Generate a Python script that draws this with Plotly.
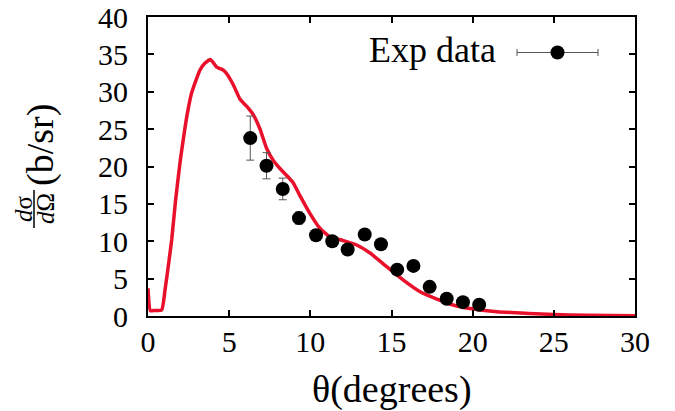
import plotly.graph_objects as go

# Theory curve
theta_curve = [0, 0.15, 0.4, 0.84, 1.05, 1.3, 1.46, 1.7, 2.0, 2.2, 2.4, 2.68, 3.0, 3.2, 3.5,
               3.86, 4.23, 4.44, 4.64, 4.85, 5.26, 5.67, 6.1, 6.49, 6.9, 7.31, 7.72, 8.1,
               8.54, 8.95, 9.36, 9.98, 10.6, 11.2, 12.0, 12.85, 13.7, 14.7, 15.73, 16.76,
               17.8, 18.8, 19.84, 21.5, 23.5, 25.0, 27.0, 30.0]
xs_curve = [3.7, 0.7, 0.75, 0.8, 3.5, 7.5, 10.2, 15.5, 21.0, 24.0, 26.8, 29.8, 31.8, 32.9, 33.8,
            34.3, 33.3, 33.1, 32.9, 32.4, 30.9, 29.0, 28.0, 26.9, 25.0, 22.4, 20.8, 19.8,
            18.8, 17.8, 16.1, 13.7, 11.7, 10.6, 10.1, 9.5, 8.4, 6.6, 4.8, 3.25,
            2.27, 1.47, 1.0, 0.58, 0.35, 0.2, 0.1, 0.05]

# Experimental data
theta_exp = [6.3, 7.3, 8.3, 9.3, 10.35, 11.35, 12.3, 13.35, 14.35, 15.35, 16.35, 17.35, 18.4, 19.4, 20.4]
xs_exp = [23.8, 20.1, 17.0, 13.1, 10.8, 10.0, 8.9, 10.9, 9.6, 6.2, 6.7, 3.9, 2.3, 1.85, 1.5]
err_exp = [2.95, 1.75, 1.45, 0.8, 0.7, 0.6, 0.6, 0.6, 0.6, 0.5, 0.5, 0.4, 0.3, 0.3, 0.3]

x_ticks = [0, 5, 10, 15, 20, 25, 30]
y_ticks = [0, 5, 10, 15, 20, 25, 30, 35, 40]

RED = "#e8102a"
FONT = "Liberation Serif"

fig = go.Figure()
fig.add_trace(go.Scatter(x=theta_curve, y=xs_curve, mode="lines",
                         line=dict(color=RED, width=3.5, shape="spline", smoothing=0.5),
                         showlegend=False))
fig.add_trace(go.Scatter(x=theta_exp, y=xs_exp, mode="markers",
                         marker=dict(color="black", size=14),
                         error_y=dict(type="data", array=err_exp, color="#555555",
                                      thickness=1, width=4),
                         showlegend=False, cliponaxis=False))

# page shows the figure offset by the 8px body margin
OFF = 8
W, H = 675 - OFF, 411 - OFF
L, R, T, B = 148 - OFF, 40, 17 - OFF, 95
pw, ph = W - L - R, H - T - B
PL, PB = 148, 316  # plot-area left / bottom in reference pixels

def px(x):
    return (x - PL) / pw

def py(y):
    return (PB - y) / ph

axis_common = dict(showline=True, linewidth=2, linecolor="black", mirror="ticks",
                   ticks="inside", ticklen=6, tickwidth=2, tickcolor="black",
                   showgrid=False, zeroline=False, automargin=False,
                   ticklabeloverflow="allow",
                   tickfont=dict(family=FONT, size=30, color="black"))

fig.update_xaxes(range=[0, 30], tickvals=x_ticks, ticklabelstandoff=-2, **axis_common)
fig.update_yaxes(range=[0, 40], tickvals=y_ticks, ticklabelstandoff=12, **axis_common)

annotations = [
    dict(text="θ(degrees)", x=0.5, y=py(389), xref="paper", yref="paper",
         xanchor="center", yanchor="middle", showarrow=False,
         font=dict(family=FONT, size=38, color="black")),
    dict(text="(b/sr)", x=px(40), y=py(145), xref="paper", yref="paper",
         xanchor="center", yanchor="middle", showarrow=False, textangle=-90,
         font=dict(family=FONT, size=38, color="black")),
    dict(text="<i>d</i>σ", x=px(23), y=py(209), xref="paper", yref="paper",
         xanchor="center", yanchor="middle", showarrow=False, textangle=-90,
         font=dict(family=FONT, size=25, color="black")),
    dict(text="<i>d</i>Ω", x=px(45), y=py(209), xref="paper", yref="paper",
         xanchor="center", yanchor="middle", showarrow=False, textangle=-90,
         font=dict(family=FONT, size=25, color="black")),
    dict(text="Exp data", x=px(498), y=py(50), xref="paper", yref="paper",
         xanchor="right", yanchor="middle", showarrow=False,
         font=dict(family=FONT, size=36, color="black")),
]

shapes = [
    # fraction bar
    dict(type="line", xref="paper", yref="paper", x0=px(34), x1=px(34),
         y0=py(190), y1=py(228), line=dict(color="black", width=1.5)),
    # legend sample: error bar line with caps and a marker
    dict(type="line", xref="paper", yref="paper", x0=px(517), x1=px(598),
         y0=py(52.5), y1=py(52.5), line=dict(color="#555555", width=1)),
    dict(type="line", xref="paper", yref="paper", x0=px(517), x1=px(517),
         y0=py(49), y1=py(56), line=dict(color="#555555", width=1)),
    dict(type="line", xref="paper", yref="paper", x0=px(598), x1=px(598),
         y0=py(49), y1=py(56), line=dict(color="#555555", width=1)),
    dict(type="circle", xref="paper", yref="paper", x0=px(550.5), x1=px(564.5),
         y0=py(59.5), y1=py(45.5), fillcolor="black", line=dict(color="black", width=0)),
]

fig.update_layout(width=W, height=H, margin=dict(l=L, r=R, t=T, b=B),
                  paper_bgcolor="white", plot_bgcolor="white",
                  font=dict(family=FONT, color="black"),
                  annotations=annotations, shapes=shapes, showlegend=False)

fig.write_html("out.html")
